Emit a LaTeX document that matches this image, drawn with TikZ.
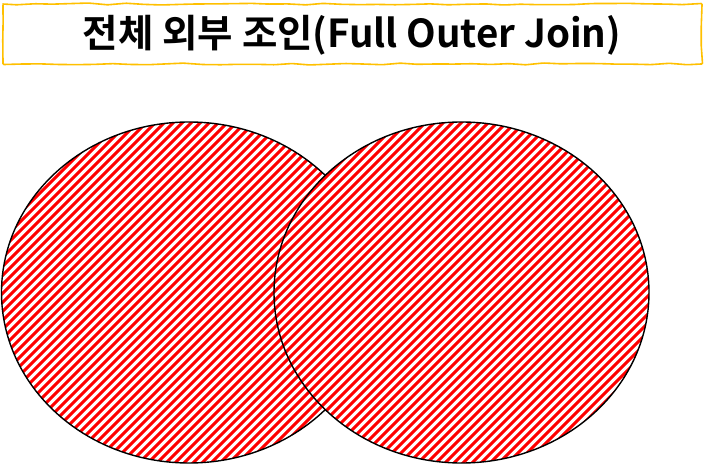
\documentclass[tikz,border=0pt]{standalone}
\usepackage{fontspec}
\newfontfamily\krfont{Noto Sans CJK KR}[BoldFont={Noto Sans CJK KR Bold}]
\usetikzlibrary{decorations.pathmorphing}
\definecolor{gold}{HTML}{FFC000}
\tikzset{
  titlebox/.style={draw=gold, line width=1.6pt, fill=white,
    decorate, decoration={random steps, segment length=18pt, amplitude=1pt}, rounded corners=1pt},
  setoutline/.style={draw=black, line width=1.4pt},
  hatch/.style={draw=red, line width=3pt}
}
\begin{document}
\begin{tikzpicture}[x=1pt,y=-1pt]
\useasboundingbox (0,0) rectangle (704,465);
% title
\draw[titlebox] (3,4) rectangle (702,64);
\node (title) at (352,35) {\krfont\bfseries\fontsize{38.5}{44}\selectfont 전체 외부 조인(Full Outer Join)};
% left set
\coordinate (lc) at (189,292.5);
\coordinate (rc) at (461.5,292.5);
\fill[white] (lc) ellipse [x radius=187.5, y radius=170.5];
\begin{scope}
  \clip (lc) ellipse [x radius=187.5, y radius=170.5];
  \foreach \k in {-480,-471,...,720} {\draw[hatch] (\k,470) -- (\k+475,-5);}
\end{scope}
\draw[setoutline] (lc) ellipse [x radius=187.5, y radius=170.5];
% right set
\fill[white] (rc) ellipse [x radius=187.5, y radius=170.5];
\begin{scope}
  \clip (rc) ellipse [x radius=187.5, y radius=170.5];
  \foreach \k in {-480,-471,...,720} {\draw[hatch] (\k,470) -- (\k+475,-5);}
\end{scope}
\draw[setoutline] (rc) ellipse [x radius=187.5, y radius=170.5];
\end{tikzpicture}
\end{document}
